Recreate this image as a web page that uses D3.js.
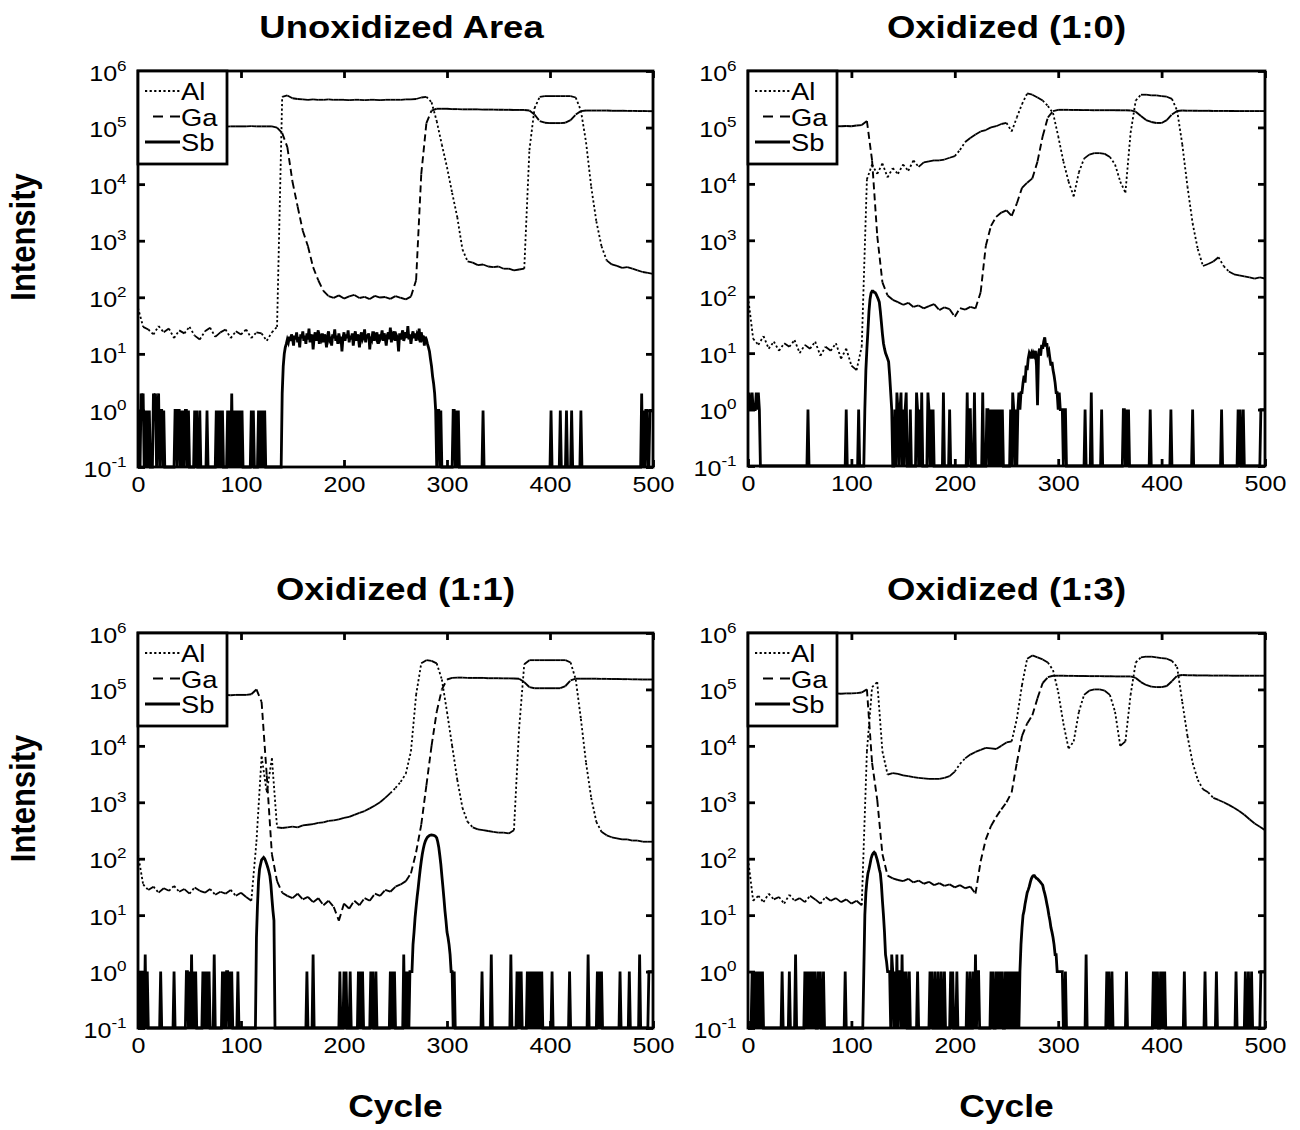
<!DOCTYPE html>
<html>
<head>
<meta charset="utf-8">
<script src="https://cdn.jsdelivr.net/npm/d3@7"></script>
<style>
  body { margin: 0; background: #fff; }
  svg { display: block; }
</style>
</head>
<body>
<svg id="chart" width="1300" height="1130"></svg>
<script>
// ---------------------------------------------------------------
// SIMS depth profiles: Al, Ga and Sb intensity vs. sputter cycle
// ---------------------------------------------------------------

const panelTitles = ["Unoxidized Area", "Oxidized (1:0)", "Oxidized (1:1)", "Oxidized (1:3)"];
const seriesNames = ["Al", "Ga", "Sb"];
const xTicks = [0, 100, 200, 300, 400, 500];
const yTicks = [1e-1, 1e0, 1e1, 1e2, 1e3, 1e4, 1e5, 1e6];

// Al and Ga traces are sampled every 5 cycles (0, 5, ..., 500)
const cycles = d3.range(0, 501, 5);

// ---- Unoxidized area ----
const alUnox = [
  65, 30, 27, 22, 31, 24, 28, 19, 26, 23,
  30, 21, 18, 25, 29, 20, 24, 27, 19, 25,
  22, 27, 19, 24, 23, 17, 24, 30, 3.5e5, 3.7e5,
  3.3e5, 3.2e5, 3.15e5, 3.1e5, 3.15e5, 3.1e5, 3.1e5, 3.15e5, 3.1e5, 3.1e5,
  3.1e5, 3.05e5, 3.1e5, 3.1e5, 3.05e5, 3.1e5, 3.1e5, 3.05e5, 3.1e5, 3.1e5,
  3.1e5, 3.1e5, 3.15e5, 3.15e5, 3.2e5, 3.4e5, 3.5e5, 2.8e5, 1.3e5, 5e4,
  2e4, 7e3, 2.6e3, 7e2, 4.3e2, 4.1e2, 3.7e2, 3.8e2, 3.5e2, 3.4e2,
  3.5e2, 3.2e2, 3.2e2, 3.0e2, 3.1e2, 3.2e2, 4e4, 2.2e5, 3.5e5, 3.6e5,
  3.6e5, 3.6e5, 3.6e5, 3.6e5, 3.6e5, 3.4e5, 2e5, 5.5e4, 9e3, 2.2e3,
  8e2, 4.5e2, 3.8e2, 3.6e2, 3.3e2, 3.4e2, 3.2e2, 3.0e2, 2.8e2, 2.7e2,
  2.6e2
];
const gaUnox = [
  1.05e5, 1.05e5, 1.06e5, 1.05e5, 1.04e5, 1.05e5, 1.05e5, 1.06e5, 1.05e5, 1.05e5,
  1.05e5, 1.04e5, 1.05e5, 1.05e5, 1.06e5, 1.05e5, 1.05e5, 1.04e5, 1.05e5, 1.05e5,
  1.05e5, 1.05e5, 1.06e5, 1.05e5, 1.05e5, 1.05e5, 1.05e5, 1.0e5, 8e4, 4.5e4,
  1.1e4, 4e3, 1.5e3, 8e2, 3.4e2, 2e2, 1.3e2, 1.05e2, 98, 108,
  95, 104, 110, 97, 102, 93, 106, 99, 101, 94,
  105, 98, 92, 103, 2e2, 1.5e4, 1.2e5, 2e5, 2.15e5, 2.15e5,
  2.15e5, 2.12e5, 2.12e5, 2.1e5, 2.1e5, 2.1e5, 2.1e5, 2.08e5, 2.08e5, 2.08e5,
  2.07e5, 2.06e5, 2.06e5, 2.05e5, 2.05e5, 2.05e5, 2.0e5, 1.7e5, 1.3e5, 1.22e5,
  1.2e5, 1.2e5, 1.2e5, 1.22e5, 1.35e5, 1.7e5, 1.95e5, 2.0e5, 2.0e5, 2.0e5,
  2.0e5, 2.0e5, 1.98e5, 1.98e5, 1.98e5, 1.97e5, 1.97e5, 1.96e5, 1.96e5, 1.95e5,
  1.95e5
];
// Sb counts: single-cycle counts [cycle, count]; all other cycles read zero
const sbUnoxSpikes = [
  [1,1],[3,2],[4,1],[5,2],[7,1],[9,1],[11,1],[15,2],[16,1],[17,2],[19,1],[20,2],[22,1],[23,1],[25,1],
  [36,1],[37,1],[39,1],[40,1],[42,1],[44,1],[46,1],[47,1],[49,1],[55,1],[57,1],[60,1],[67,1],
  [76,1],[78,1],[80,1],[82,1],[87,1],[89,1],[91,2],[93,1],[95,1],[97,1],[99,1],[101,1],
  [110,1],[112,1],[117,1],[119,1],[121,1],[123,1],
  [291,1],[292,1],[294,1],[306,1],[307,1],[309,1],[311,1],[335,1],[401,1],[410,1],[416,1],
  [421,1],[430,1],[489,2],[491,1],[493,1],[494,1],[497,1],[498,1],[499,1],[500,1]
];
// Sb counts over continuous runs: [first cycle, counts per cycle]
const sbUnoxRuns = [
  [140, [
    2, 6, 10, 13, 15, 18, 16, 20, 17, 22,
    19, 14, 21, 18, 24, 16, 20, 13, 22, 19,
    25, 17, 21, 15, 23, 18, 28, 16, 20, 22,
    12, 19, 24, 17, 21, 26, 15, 20, 18, 23,
    16, 22, 19, 13, 21, 25, 18, 20, 14, 22,
    19, 27, 17, 21, 15, 23, 18, 20, 11, 19,
    24, 17, 22, 19, 26, 16, 21, 18, 23, 14,
    20, 25, 17, 22, 19, 13, 21, 24, 18, 20,
    27, 16, 22, 19, 23, 12, 20, 18, 25, 17,
    21, 19, 24, 15, 22, 18, 20, 26, 17, 23,
    19, 14, 21, 24, 18, 29, 16, 22, 20, 25,
    17, 21, 19, 11, 23, 18, 22, 26, 17, 20,
    24, 19, 31, 18, 22, 15, 21, 25, 19, 23,
    17, 22, 20, 28, 16, 24, 19, 21, 14, 20,
    18, 15, 13, 11, 8, 6, 4, 3, 2, 1
  ]]
];

// ---- Oxidized (1:0) ----
const alOx10 = [
  100, 18, 14, 20, 12, 16, 11, 15, 13, 17,
  10, 14, 12, 16, 9, 13, 11, 15, 8, 12,
  6, 5, 13, 1.2e4, 2.2e4, 1.5e4, 2.3e4, 1.3e4, 1.9e4, 1.5e4,
  2.2e4, 1.7e4, 2.6e4, 2.0e4, 2.4e4, 2.5e4, 2.6e4, 2.6e4, 2.7e4, 2.9e4,
  3.1e4, 4e4, 5.5e4, 6.5e4, 7.5e4, 8.5e4, 9e4, 1e5, 1.05e5, 1.15e5,
  1.2e5, 8.5e4, 1.5e5, 2.6e5, 4e5, 3.8e5, 3.4e5, 3e5, 2.4e5, 1.8e5,
  7e4, 2.5e4, 1.1e4, 6e3, 1.6e4, 2.8e4, 3.3e4, 3.5e4, 3.5e4, 3.4e4,
  3e4, 2.2e4, 1.1e4, 7e3, 8e4, 3e5, 3.8e5, 3.8e5, 3.7e5, 3.7e5,
  3.6e5, 3.5e5, 3.2e5, 2e5, 5e4, 9e3, 2e3, 7e2, 3.5e2, 3.8e2,
  4.2e2, 5e2, 3.5e2, 2.8e2, 2.5e2, 2.4e2, 2.3e2, 2.2e2, 2.1e2, 2.2e2,
  2.1e2
];
const gaOx10 = [
  1.05e5, 1.05e5, 1.04e5, 1.05e5, 1.05e5, 1.06e5, 1.05e5, 1.05e5, 1.04e5, 1.05e5,
  1.05e5, 1.05e5, 1.06e5, 1.05e5, 1.05e5, 1.04e5, 1.05e5, 1.05e5, 1.05e5, 1.06e5,
  1.05e5, 1.08e5, 1.1e5, 1.3e5, 2.6e4, 1.2e3, 1.8e2, 1.05e2, 88, 80,
  72, 78, 66, 70, 62, 68, 74, 58, 65, 60,
  44, 63, 59, 66, 62, 1.2e2, 8e2, 1.8e3, 2.6e3, 3.1e3,
  3.4e3, 2.7e3, 4.5e3, 8.5e3, 1.05e4, 1.25e4, 2.5e4, 7e4, 1.5e5, 1.95e5,
  2.05e5, 2.05e5, 2.05e5, 2.04e5, 2.04e5, 2.03e5, 2.03e5, 2.02e5, 2.02e5, 2.02e5,
  2.02e5, 2.02e5, 2.01e5, 2.01e5, 2.0e5, 1.9e5, 1.6e5, 1.35e5, 1.25e5, 1.2e5,
  1.2e5, 1.35e5, 1.7e5, 1.95e5, 2.0e5, 1.98e5, 1.98e5, 1.97e5, 1.97e5, 1.97e5,
  1.96e5, 1.96e5, 1.96e5, 1.96e5, 1.95e5, 1.95e5, 1.95e5, 1.95e5, 1.95e5, 1.95e5,
  1.95e5
];
const sbOx10Spikes = [
  [0,1],[1,2],[2,1],[3,1],[4,2],[5,1],[6,1],[7,1],[8,2],[9,1],[10,2],[11,1],[58,1],[95,1],[107,1],
  [142,1],[144,2],[145,1],[147,1],[148,2],[150,1],[152,1],[153,2],[157,1],[163,2],[164,1],[166,1],
  [168,2],[174,2],[175,1],[177,1],[179,1],[189,2],[195,1],[212,2],[214,1],[215,1],[219,2],[227,2],
  [231,1],[232,1],[234,1],[236,1],[238,1],[240,1],[242,1],[244,1],[246,1],[254,1],[256,2],[257,1],[259,1],
  [306,1],[307,1],[326,1],[332,2],[342,1],[363,1],[364,1],[366,1],[368,1],[389,1],[409,1],[430,1],
  [458,1],[474,1],[476,1],[479,1],[496,1],[497,1],[498,1],[499,1],[500,1]
];
const sbOx10Runs = [
  [113, [1, 5, 12, 25, 55, 90, 115, 125, 125, 120,
         118, 110, 100, 90, 80, 55, 35, 22, 15, 12,
         10, 9, 8, 7, 4, 2, 1]],
  [261, [1, 2, 1, 2, 2, 3, 4, 3, 6, 5,
         8, 10, 9, 10, 8, 10, 9, 11, 6, 1.2,
         10, 12, 9, 14, 12, 16, 19, 13, 15, 10,
         11, 8, 6, 7, 5, 4, 3, 2, 2, 1,
         2, 1, 1, 1]]
];

// ---- Oxidized (1:1) ----
const alOx11 = [
  120, 35, 28, 32, 25, 30, 27, 33, 26, 29,
  24, 31, 27, 25, 29, 23, 26, 24, 28, 22,
  25, 21, 18, 2e2, 6.5e3, 1.5e3, 6e3, 3.6e2, 3.5e2, 3.6e2,
  3.7e2, 3.6e2, 3.9e2, 4e2, 4.1e2, 4.3e2, 4.4e2, 4.7e2, 4.8e2, 5e2,
  5.3e2, 5.5e2, 6e2, 6.5e2, 7e2, 7.8e2, 8.8e2, 1e3, 1.2e3, 1.45e3,
  1.8e3, 2.3e3, 3.2e3, 8e3, 8e4, 2.9e5, 3.3e5, 3.2e5, 2.9e5, 1.5e5,
  4e4, 1e4, 2.5e3, 8e2, 4.5e2, 3.6e2, 3.3e2, 3.2e2, 3.1e2, 3e2,
  2.9e2, 2.9e2, 2.8e2, 3.2e2, 2e4, 2.8e5, 3.3e5, 3.3e5, 3.3e5, 3.3e5,
  3.3e5, 3.3e5, 3.3e5, 3.3e5, 3e5, 1.5e5, 3e4, 5e3, 1.2e3, 4.5e2,
  3e2, 2.6e2, 2.4e2, 2.3e2, 2.2e2, 2.2e2, 2.1e2, 2.1e2, 2e2, 2e2,
  2e2
];
const gaOx11 = [
  8e4, 8e4, 8.1e4, 8e4, 7.9e4, 8e4, 8e4, 8.1e4, 8e4, 8e4,
  8e4, 7.9e4, 8e4, 8e4, 8.1e4, 8e4, 8e4, 8e4, 7.9e4, 8e4,
  8e4, 8e4, 8.2e4, 1e5, 6e4, 3e3, 1.2e2, 40, 25, 22,
  20, 24, 19, 21, 17, 20, 15, 18, 14, 8,
  16, 13, 18, 15, 20, 18, 24, 22, 28, 26,
  32, 35, 40, 55, 1.3e2, 4e2, 2e3, 1e4, 4e4, 1e5,
  1.5e5, 1.6e5, 1.62e5, 1.62e5, 1.6e5, 1.6e5, 1.6e5, 1.6e5, 1.58e5, 1.58e5,
  1.58e5, 1.57e5, 1.57e5, 1.56e5, 1.55e5, 1.35e5, 1.1e5, 1.05e5, 1.05e5, 1.05e5,
  1.05e5, 1.05e5, 1.05e5, 1.15e5, 1.45e5, 1.55e5, 1.55e5, 1.55e5, 1.55e5, 1.55e5,
  1.54e5, 1.54e5, 1.53e5, 1.53e5, 1.52e5, 1.52e5, 1.51e5, 1.51e5, 1.5e5, 1.5e5,
  1.5e5
];
const sbOx11Spikes = [
  [1,1],[3,1],[5,1],[7,2],[9,1],[22,1],[35,1],[47,1],[48,1],[50,1],[52,2],[54,1],[56,1],
  [63,1],[65,1],[67,1],[69,1],[74,2],[82,1],[84,1],[86,1],[87,1],[89,1],[91,1],[97,1],
  [164,1],[170,2],[196,1],[200,1],[202,1],[206,1],[214,1],[216,1],[218,1],[226,1],[228,1],
  [231,1],[245,1],[247,1],[249,1],[258,2],[260,1],[262,1],
  [307,1],[334,1],[343,2],[362,2],[368,1],[370,1],[372,1],[378,1],[380,1],[382,1],[384,1],
  [386,1],[388,1],[390,1],[392,1],[402,1],[419,1],[437,2],[446,1],[448,1],[450,1],[468,1],
  [477,1],[487,2],[496,1],[497,1],[498,1],[499,1],[500,1]
];
const sbOx11Runs = [
  [115, [4, 15, 40, 65, 80, 95, 100, 105, 100, 90,
         80, 70, 60, 50, 35, 20, 12, 8]],
  [264, [1, 1, 1, 3, 5, 9, 14, 21, 30, 45,
         65, 90, 120, 150, 180, 205, 225, 240, 250, 258,
         262, 263, 262, 260, 255, 248, 235, 200, 160, 115,
         80, 50, 32, 20, 12, 8, 5, 4, 3, 2,
         1, 1]]
];

// ---- Oxidized (1:3) ----
const alOx13 = [
  100, 18, 22, 17, 24, 19, 21, 16, 23, 18,
  20, 17, 22, 19, 16, 21, 18, 20, 17, 19,
  16, 18, 15, 8e3, 1.1e5, 1.35e5, 8e3, 3.1e3, 3.3e3, 3.2e3,
  3.0e3, 2.9e3, 2.8e3, 2.7e3, 2.65e3, 2.6e3, 2.6e3, 2.6e3, 2.7e3, 2.9e3,
  3.5e3, 4.8e3, 6e3, 7e3, 7.8e3, 8.5e3, 9.2e3, 9e3, 8.8e3, 1e4,
  1.15e4, 1.2e4, 3e4, 1.2e5, 3.5e5, 4e5, 3.7e5, 3.4e5, 3e5, 2.2e5,
  9e4, 2.5e4, 9e3, 1.2e4, 4e4, 8e4, 9.5e4, 1e5, 1e5, 9.5e4,
  8e4, 4e4, 1e4, 1.2e4, 8e4, 3e5, 3.7e5, 3.8e5, 3.8e5, 3.7e5,
  3.6e5, 3.5e5, 3.2e5, 2.5e5, 6e4, 1.5e4, 5e3, 2.5e3, 1.7e3, 1.5e3,
  1.2e3, 1.1e3, 1e3, 9e2, 8e2, 7e2, 6e2, 5e2, 4.2e2, 3.7e2,
  3.2e2
];
const gaOx13 = [
  8.5e4, 8.5e4, 8.6e4, 8.5e4, 8.4e4, 8.5e4, 8.5e4, 8.6e4, 8.5e4, 8.5e4,
  8.5e4, 8.4e4, 8.5e4, 8.5e4, 8.6e4, 8.5e4, 8.5e4, 8.5e4, 8.4e4, 8.5e4,
  8.5e4, 8.6e4, 8.8e4, 1e5, 5e3, 1.1e3, 1.2e2, 50, 45, 42,
  40, 44, 38, 41, 36, 39, 34, 37, 33, 35,
  31, 34, 30, 32, 24, 90, 2.2e2, 3.8e2, 5.5e2, 7.5e2,
  1e3, 1.5e3, 5e3, 1.5e4, 2.5e4, 3.5e4, 7e4, 1.3e5, 1.65e5, 1.75e5,
  1.75e5, 1.75e5, 1.74e5, 1.74e5, 1.73e5, 1.73e5, 1.72e5, 1.72e5, 1.72e5, 1.71e5,
  1.71e5, 1.7e5, 1.7e5, 1.7e5, 1.7e5, 1.6e5, 1.35e5, 1.2e5, 1.12e5, 1.1e5,
  1.1e5, 1.15e5, 1.4e5, 1.75e5, 1.8e5, 1.78e5, 1.78e5, 1.77e5, 1.77e5, 1.77e5,
  1.76e5, 1.76e5, 1.76e5, 1.76e5, 1.75e5, 1.75e5, 1.75e5, 1.75e5, 1.75e5, 1.75e5,
  1.75e5
];
const sbOx13Spikes = [
  [4,1],[6,1],[8,1],[10,1],[12,1],[14,1],[33,1],[40,1],[46,2],[55,1],[57,1],[59,1],[61,1],
  [63,1],[65,1],[68,1],[70,1],[73,1],[94,1],
  [136,1],[137,1],[139,2],[140,1],[142,1],[144,2],[146,1],[147,1],[149,2],[151,1],[153,1],
  [156,1],[164,1],[176,1],[178,1],[181,1],[184,1],[187,1],[190,1],[196,1],[198,1],[202,1],
  [212,1],[215,1],[218,1],[220,2],[222,1],[223,1],[235,1],[237,1],[240,1],[242,1],[244,1],
  [246,1],[249,1],[251,1],[253,1],[255,1],[257,1],[259,1],[261,1],
  [307,1],[327,2],[347,1],[349,1],[352,1],[366,1],[392,1],[394,1],[396,1],[399,1],[401,1],
  [403,1],[422,1],[442,1],[453,1],[472,1],[481,1],[484,1],[487,1],[496,1],[497,1],[498,1],
  [499,1],[500,1]
];
const sbOx13Runs = [
  [112, [1, 10, 25, 40, 55, 65, 80, 100, 115, 125,
         130, 125, 110, 95, 80, 65, 55, 35, 18, 10,
         5, 2, 1.5, 1]],
  [263, [1, 3, 6, 10, 12, 16, 20, 25, 28, 32,
         38, 44, 48, 50, 50, 47, 45, 44, 42, 40,
         38, 36, 34, 28, 24, 20, 16, 13, 10, 8,
         6, 5, 4, 3, 2, 2, 1, 1, 1, 1,
         1, 1]]
];

// Per-cycle Sb trace (cycles 0..500) from spikes and runs
function sbTrace(spikes, runs) {
  const counts = new Array(501).fill(0);
  spikes.forEach(([c, v]) => { counts[c] = v; });
  runs.forEach(([start, vals]) => vals.forEach((v, k) => { counts[start + k] = v; }));
  return counts;
}

const panelData = [
  { title: panelTitles[0], al: alUnox, ga: gaUnox, sb: sbTrace(sbUnoxSpikes, sbUnoxRuns) },
  { title: panelTitles[1], al: alOx10, ga: gaOx10, sb: sbTrace(sbOx10Spikes, sbOx10Runs) },
  { title: panelTitles[2], al: alOx11, ga: gaOx11, sb: sbTrace(sbOx11Spikes, sbOx11Runs) },
  { title: panelTitles[3], al: alOx13, ga: gaOx13, sb: sbTrace(sbOx13Spikes, sbOx13Runs) }
];

// ---------------- layout & style ----------------
const layout = [
  { x0: 138, x1: 653, y0: 71, y1: 467, ylab: true, xlab: false },
  { x0: 748, x1: 1265, y0: 71, y1: 466, ylab: false, xlab: false },
  { x0: 138, x1: 653, y0: 633, y1: 1028, ylab: true, xlab: true },
  { x0: 748, x1: 1265, y0: 633, y1: 1028, ylab: false, xlab: true }
];
const FONT = '"Liberation Sans", Arial, Helvetica, sans-serif';
const WIDE = 1.14;          // horizontal stretch of all lettering
const FRAME_W = 2.8;
const TICK_LEN = 7;
const styles = {
  Al: { width: 1.8, dash: "2.2,2.4" },
  Ga: { width: 1.9, dash: "7,4" },
  Sb: { width: 2.8, dash: null }
};

const svg = d3.select("#chart").attr("font-family", FONT);

function wideText(sel, x, y, extra) {
  return sel.attr("x", 0).attr("y", 0)
    .attr("transform", `translate(${x},${y}) scale(${WIDE},1)${extra || ""}`);
}

// Draws a trace segment by segment; dash pattern restarts on every segment,
// so short steps read as solid and steep steps read as dashed / dotted.
function drawTrace(g, vals, x, y, st) {
  const pts = vals.map((v, i) => [x(cycles[i]), y(Math.max(v, 0.1))]);
  g.append("g").selectAll("line")
    .data(d3.pairs(pts))
    .join("line")
    .attr("x1", d => d[0][0]).attr("y1", d => d[0][1])
    .attr("x2", d => d[1][0]).attr("y2", d => d[1][1])
    .attr("stroke", "#000")
    .attr("stroke-width", st.width)
    .attr("stroke-linecap", "butt")
    .attr("stroke-dasharray", d => {
      const L = Math.hypot(d[1][0] - d[0][0], d[1][1] - d[0][1]);
      return L > 7 ? st.dash : null;
    });
}

panelData.forEach((p, idx) => {
  const L = layout[idx];
  const x = d3.scaleLinear().domain([0, 500]).range([L.x0, L.x1]);
  const y = d3.scaleLog().domain([0.1, 1e6]).range([L.y1, L.y0]).clamp(true);
  const g = svg.append("g");

  const clipId = "clip" + idx;
  g.append("clipPath").attr("id", clipId).append("rect")
    .attr("x", L.x0).attr("y", L.y0 - 2)
    .attr("width", L.x1 - L.x0).attr("height", L.y1 - L.y0 + 4);

  const plot = g.append("g").attr("clip-path", `url(#${clipId})`);

  // Sb: per-cycle solid trace
  plot.append("path")
    .datum(p.sb)
    .attr("fill", "none")
    .attr("stroke", "#000")
    .attr("stroke-width", styles.Sb.width)
    .attr("stroke-linejoin", "miter")
    .attr("d", d3.line().x((d, i) => x(i)).y(d => y(Math.max(d, 0.1))));

  drawTrace(plot, p.ga, x, y, styles.Ga);
  drawTrace(plot, p.al, x, y, styles.Al);

  // axes (ticks point inward on all four sides)
  const gx = g.append("g").attr("transform", `translate(0,${L.y1})`)
    .call(d3.axisBottom(x).tickValues(xTicks).tickSizeInner(-TICK_LEN).tickSizeOuter(0).tickPadding(9));
  const gxt = g.append("g").attr("transform", `translate(0,${L.y0})`)
    .call(d3.axisTop(x).tickValues(xTicks).tickSizeInner(-TICK_LEN).tickSizeOuter(0).tickFormat(() => ""));
  const gy = g.append("g").attr("transform", `translate(${L.x0},0)`)
    .call(d3.axisLeft(y).tickValues(yTicks).tickSizeInner(-TICK_LEN).tickSizeOuter(0).tickPadding(10));
  const gyr = g.append("g").attr("transform", `translate(${L.x1},0)`)
    .call(d3.axisRight(y).tickValues(yTicks).tickSizeInner(-TICK_LEN).tickSizeOuter(0).tickFormat(() => ""));

  [gx, gxt, gy, gyr].forEach(a => {
    a.attr("font-family", null).attr("font-size", null);
    a.select(".domain").remove();
    a.selectAll(".tick line").attr("stroke", "#000").attr("stroke-width", FRAME_W);
  });

  gx.selectAll(".tick text")
    .attr("fill", "#000").attr("font-size", 22)
    .attr("transform", `scale(${WIDE},1)`);

  gy.selectAll(".tick text")
    .attr("fill", "#000").attr("font-size", 22)
    .attr("dy", null).attr("y", 9)
    .attr("transform", `scale(${WIDE},1)`)
    .text(null)
    .each(function (d) {
      const t = d3.select(this);
      t.append("tspan").text("10");
      t.append("tspan").attr("font-size", 15).attr("dy", -10)
        .text(Math.round(Math.log10(d)));
    });

  // frame
  g.append("rect")
    .attr("x", L.x0).attr("y", L.y0)
    .attr("width", L.x1 - L.x0).attr("height", L.y1 - L.y0)
    .attr("fill", "none").attr("stroke", "#000").attr("stroke-width", FRAME_W);

  // legend
  const lg = g.append("g").attr("transform", `translate(${L.x0},${L.y0})`);
  lg.append("rect").attr("x", 0).attr("y", 0).attr("width", 89).attr("height", 93)
    .attr("fill", "#fff").attr("stroke", "#000").attr("stroke-width", FRAME_W);
  seriesNames.forEach((name, k) => {
    const cy = 20 + k * 25.5;
    const st = styles[name];
    const xa = name === "Ga" ? 15 : 7;
    lg.append("line")
      .attr("x1", xa).attr("x2", 42).attr("y1", cy).attr("y2", cy)
      .attr("stroke", "#000")
      .attr("stroke-width", name === "Sb" ? 3 : 1.8)
      .attr("stroke-dasharray", name === "Ga" ? "10,7" : st.dash);
    wideText(lg.append("text"), 43, cy + 9)
      .attr("font-size", 24).attr("fill", "#000").text(name);
  });

  // title
  wideText(g.append("text"), (L.x0 + L.x1) / 2 + (idx === 0 ? 6 : 0), L.y0 - 33)
    .attr("text-anchor", "middle").attr("font-weight", "bold")
    .attr("font-size", 32).attr("fill", "#000").text(p.title);

  if (L.ylab) {
    wideText(g.append("text"), 35, (L.y0 + L.y1) / 2 - 32, " rotate(-90)")
      .attr("text-anchor", "middle").attr("font-weight", "bold")
      .attr("font-size", 31).attr("fill", "#000").text("Intensity");
  }
  if (L.xlab) {
    wideText(g.append("text"), (L.x0 + L.x1) / 2, 1117)
      .attr("text-anchor", "middle").attr("font-weight", "bold")
      .attr("font-size", 31).attr("fill", "#000").text("Cycle");
  }
});
</script>
</body>
</html>
